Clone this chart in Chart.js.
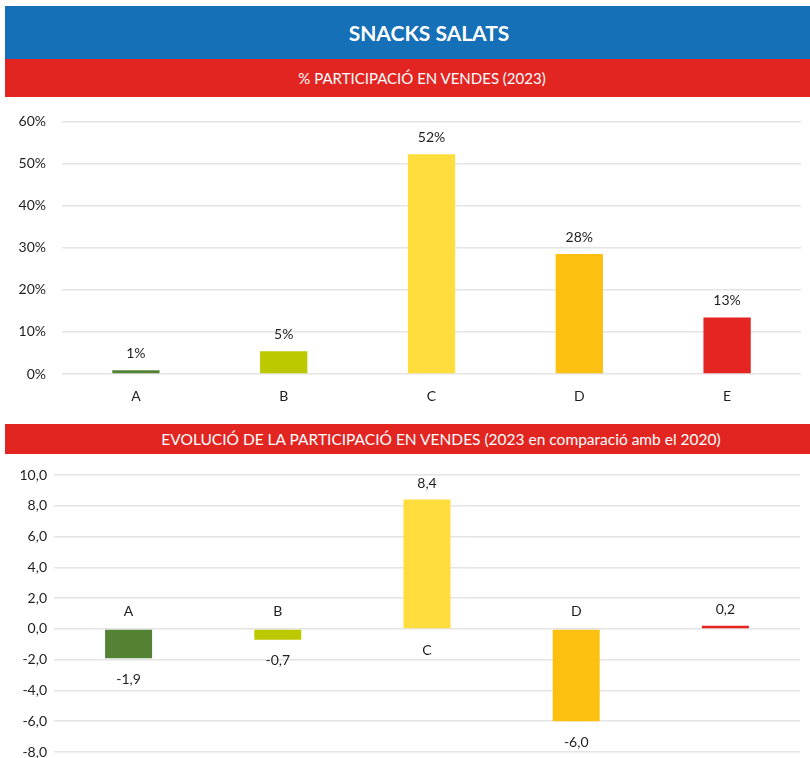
<!DOCTYPE html>
<html>
<head>
<meta charset="utf-8">
<script src="https://cdn.jsdelivr.net/npm/chart.js@4.4.1/dist/chart.umd.min.js"></script>
<style>
    html, body { margin: 0; padding: 0; background: #fff; overflow: hidden; width: 810px; height: 758px; }
    body { position: relative; font-family: Lato, "Open Sans", sans-serif; }
    .band { position: absolute; left: 5px; width: 850px; color: #fff; text-align: center; box-sizing: border-box; }
    #title { top: 6px; height: 53px; line-height: 53px; background: #1570b8; font-size: 21px; font-weight: bold; padding-right: 2px; }
    #sub1 { top: 59px; height: 38px; line-height: 38px; background: #e32522; font-size: 15px; padding-right: 16px; }
    #sub2 { top: 424px; height: 30px; line-height: 30px; background: #e32522; font-size: 15.5px; padding-left: 22px; }
    .wrap { position: absolute; left: 0; width: 810px; }
    #wrap1 { top: 97px; height: 316px; }
    #wrap2 { top: 454px; height: 320px; }
</style>
</head>
<body>
<div id="title" class="band">SNACKS SALATS</div>
<div id="sub1" class="band">% PARTICIPACIÓ EN VENDES (2023)</div>
<div class="wrap" id="wrap1"><canvas id="shareChart"></canvas></div>
<div id="sub2" class="band">EVOLUCIÓ DE LA PARTICIPACIÓ EN VENDES (2023 en comparació amb el 2020)</div>
<div class="wrap" id="wrap2"><canvas id="evoChart"></canvas></div>
<script>
// Categories and values
const CATEGORIES = ['A', 'B', 'C', 'D', 'E'];
const EVO_LABELS = ['A', 'B', 'C', 'D', ''];   // E label is not shown in the lower chart
const SHARE_2023 = [0.9, 5.4, 52.2, 28.5, 13.4];
const SHARE_LABELS = ['1%', '5%', '52%', '28%', '13%'];
const EVOLUTION = [-1.9, -0.7, 8.4, -6.0, 0.2];
const SHARE_TICKS = [0, 10, 20, 30, 40, 50, 60];
const EVO_TICKS = [-8, -6, -4, -2, 0, 2, 4, 6, 8, 10];

const BAR_COLORS = ['#548235', '#bdc900', '#ffdd3c', '#fcc010', '#e42521'];
const TEXT_COLOR = '#1e1e1e';
const GRID_COLOR = '#e4e4e4';
const FONT = { family: 'Lato, "Open Sans", sans-serif', size: 14 };

const fmtComma = v => v.toFixed(1).replace('.', ',');

/**
 * Value labels above (or below, for negatives) each bar,
 * plus the category names next to the zero line
 */
const valueLabels = {
    id: 'valueLabels',
    afterDatasetsDraw(chart, args, opts) {
        const ctx = chart.ctx;
        const meta = chart.getDatasetMeta(0);
        const data = chart.data.datasets[0].data;
        const zero = chart.scales.y.getPixelForValue(0);
        ctx.save();
        ctx.font = `${FONT.size}px ${FONT.family}`;
        ctx.fillStyle = TEXT_COLOR;
        ctx.textAlign = 'center';
        ctx.textBaseline = 'middle';
        meta.data.forEach((bar, i) => {
            const v = data[i];
            const txt = opts.texts ? opts.texts[i] : fmtComma(v);
            if (v >= 0) {
                ctx.fillText(txt, bar.x, bar.y - opts.above);
            } else {
                ctx.fillText(txt, bar.x, bar.y + opts.below);
            }
            if (opts.categories && opts.categories[i]) {
                const cy = v >= 0 ? zero + 22 : zero - 17;
                ctx.fillText(opts.categories[i], bar.x, cy);
            }
        });
        ctx.restore();
    }
};

document.addEventListener('DOMContentLoaded', () => {
    initShareChart();
    initEvoChart();
});

function initShareChart() {
    const ctx = document.getElementById('shareChart').getContext('2d');
    new Chart(ctx, {
        type: 'bar',
        data: {
            labels: CATEGORIES,
            datasets: [{
                data: SHARE_2023,
                backgroundColor: BAR_COLORS,
                categoryPercentage: 1,
                barPercentage: 0.32
            }]
        },
        options: {
            responsive: true,
            maintainAspectRatio: false,
            animation: false,
            layout: { padding: { top: 23, right: 9, bottom: 39, left: 0 } },
            plugins: {
                legend: { display: false },
                tooltip: { enabled: false },
                valueLabels: { texts: SHARE_LABELS, above: 17, below: 20, categories: CATEGORIES }
            },
            scales: {
                x: {
                    display: false
                },
                y: {
                    min: 0,
                    max: 60,
                    afterFit: s => { s.width = 62; },
                    afterBuildTicks: s => { s.ticks = SHARE_TICKS.map(v => ({ value: v })); },
                    grid: { color: GRID_COLOR, lineWidth: 1.5, drawTicks: false },
                    border: { display: false },
                    ticks: { color: TEXT_COLOR, font: FONT, padding: 16, callback: v => v + '%' }
                }
            }
        },
        plugins: [valueLabels]
    });
}

function initEvoChart() {
    const ctx = document.getElementById('evoChart').getContext('2d');
    new Chart(ctx, {
        type: 'bar',
        data: {
            labels: CATEGORIES,
            datasets: [{
                data: EVOLUTION,
                backgroundColor: BAR_COLORS,
                categoryPercentage: 1,
                barPercentage: 0.315
            }]
        },
        options: {
            responsive: true,
            maintainAspectRatio: false,
            animation: false,
            layout: { padding: { top: 21, right: 10, bottom: 22, left: 0 } },
            plugins: {
                legend: { display: false },
                tooltip: { enabled: false },
                valueLabels: { above: 16, below: 21, categories: EVO_LABELS }
            },
            scales: {
                x: {
                    display: false
                },
                y: {
                    min: -8,
                    max: 10,
                    afterFit: s => { s.width = 54; },
                    afterBuildTicks: s => { s.ticks = EVO_TICKS.map(v => ({ value: v })); },
                    grid: { color: GRID_COLOR, lineWidth: 1.5, drawTicks: false },
                    border: { display: false },
                    ticks: { color: TEXT_COLOR, font: FONT, padding: 7, callback: v => fmtComma(v) }
                }
            }
        },
        plugins: [valueLabels]
    });
}
</script>
</body>
</html>
